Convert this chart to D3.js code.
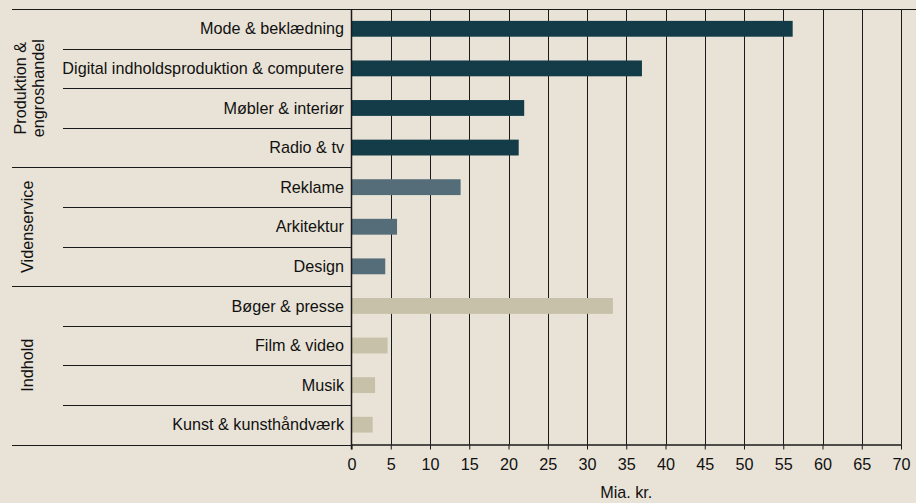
<!DOCTYPE html>
<html><head><meta charset="utf-8">
<script src="https://cdn.jsdelivr.net/npm/d3@7"></script>
<style>
html,body{margin:0;padding:0;background:#E9E3D7;}
svg{display:block;font-family:"Liberation Sans",Arial,sans-serif;}
</style></head>
<body>
<svg id="c" width="916" height="503"></svg>
<script>
const categories = ["Mode & beklædning","Digital indholdsproduktion & computere","Møbler & interiør","Radio & tv","Reklame","Arkitektur","Design","Bøger & presse","Film & video","Musik","Kunst & kunsthåndværk"];
const values = [56.2, 37.0, 22.0, 21.3, 13.9, 5.8, 4.3, 33.3, 4.6, 3.0, 2.7];
const groupOf = [0,0,0,0,1,1,1,2,2,2,2];
const groups = [["Produktion &","engroshandel"],["Videnservice"],["Indhold"]];
const groupColors = ["#133B48","#546D79","#C7C1A9"];
const xTicks = [0,5,10,15,20,25,30,35,40,45,50,55,60,65,70];
const xTitle = "Mia. kr.";

(function(){
const svg = d3.select("#c");
const pL = 351.5, pR = 901, pT = 9, pB = 444.5;
const fs = 16.2;
const x = d3.scaleLinear().domain([0,70]).range([pL,pR]);
const y = d3.scaleBand().domain(d3.range(categories.length)).range([pT,pB]).paddingInner(0.6).paddingOuter(0.3);
const row = (pB-pT)/categories.length;
const lineCol = "#1a1a1a";

svg.append("g").selectAll("line").data(xTicks.slice(1)).join("line")
  .attr("x1",d=>Math.round(x(d))+0.5).attr("x2",d=>Math.round(x(d))+0.5)
  .attr("y1",pT).attr("y2",pB).attr("stroke",lineCol).attr("stroke-width",1);

svg.append("line").attr("x1",12).attr("x2",916).attr("y1",pT+0.5).attr("y2",pT+0.5).attr("stroke",lineCol);

for(let i=1;i<=categories.length;i++){
  const yy = Math.round(pT+i*row)+0.5;
  const isGroupBreak = i===categories.length || groupOf[i]!==groupOf[i-1];
  svg.append("line").attr("x1",isGroupBreak?12:63).attr("x2",pL).attr("y1",yy).attr("y2",yy).attr("stroke",lineCol);
}

svg.append("g").selectAll("rect").data(values).join("rect")
  .attr("x",x(0)).attr("y",(d,i)=>y(i)).attr("width",d=>x(d)-x(0)).attr("height",y.bandwidth())
  .attr("fill",(d,i)=>groupColors[groupOf[i]]);

svg.append("g").selectAll("text").data(categories).join("text")
  .attr("x",344).attr("y",(d,i)=>y(i)+y.bandwidth()/2).attr("dy","0.35em")
  .attr("text-anchor","end").attr("font-size",fs).attr("fill","#111").text(d=>d);

groups.forEach((g,gi)=>{
  const idx = groupOf.map((v,i)=>v===gi?i:-1).filter(i=>i>=0);
  const y0 = pT+idx[0]*row, y1 = pT+(idx[idx.length-1]+1)*row;
  const cy = (y0+y1)/2;
  const t = svg.append("text").attr("transform",`translate(${g.length>1?26:27},${cy}) rotate(-90)`)
    .attr("text-anchor","middle").attr("font-size",fs).attr("fill","#111");
  g.forEach((ln,li)=>{
    t.append("tspan").attr("x",0).attr("dy", li===0 ? (g.length>1?"0":"0.35em") : "1.12em").text(ln);
  });
});

svg.append("line").attr("x1",pL).attr("x2",pL).attr("y1",pT).attr("y2",pB+5).attr("stroke",lineCol).attr("stroke-width",1.5);

const ax = svg.append("g").attr("transform",`translate(0,${pB})`)
  .call(d3.axisBottom(x).tickValues(xTicks).tickSize(5).tickPadding(9).tickSizeOuter(0));
ax.select(".domain").attr("stroke",lineCol).attr("stroke-width",1.5);
ax.selectAll(".tick line").attr("stroke",lineCol);
ax.selectAll(".tick text").attr("font-size",fs).attr("fill","#111").attr("font-family","Liberation Sans, Arial, sans-serif");

svg.append("text").attr("x",(pL+pR)/2).attr("y",498).attr("text-anchor","middle")
  .attr("font-size",fs).attr("fill","#111").text(xTitle);
})();
</script>
</body></html>
